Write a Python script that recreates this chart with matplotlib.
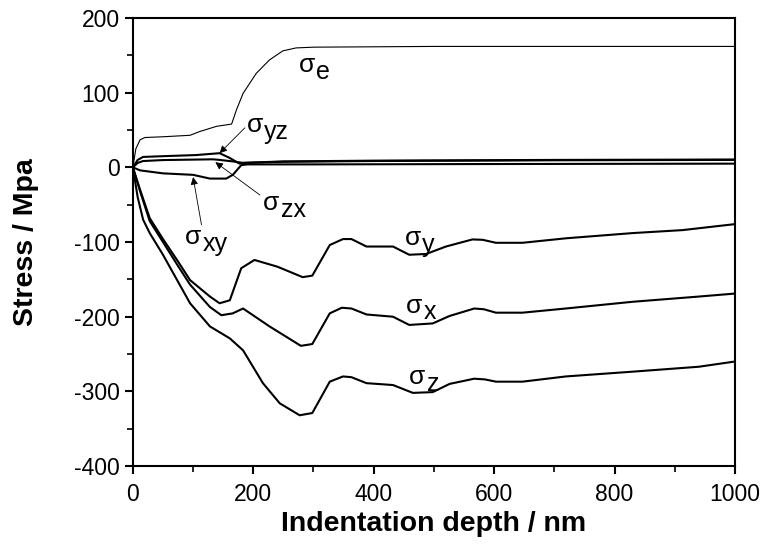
import matplotlib
matplotlib.use("Agg")
import matplotlib.pyplot as plt
from matplotlib.ticker import MultipleLocator

plt.rcParams['font.family'] = ['Liberation Sans', 'DejaVu Sans']
plt.rcParams['axes.unicode_minus'] = False

# --- Data ---
xe = [0, 5, 12, 20, 50, 95, 111, 139, 164, 172, 183, 205, 227, 249, 271, 300, 400, 500, 700, 1000]
se = [0, 25, 37, 40, 41, 43, 48, 55, 58, 77, 99, 126, 144, 156, 160, 161, 161.5, 162, 162, 162]

xyz = [0, 8, 17, 50, 105, 144, 160, 177, 183, 250, 400, 700, 1000]
syz = [0, 10, 14, 15, 16.5, 19, 13, 5, 6, 8, 9, 10, 10.5]

xzx = [0, 8, 17, 50, 133, 144, 166, 183, 250, 400, 700, 1000]
szx = [0, 6, 8.5, 9.8, 10.8, 10, 8, 6, 7.5, 8.5, 9.5, 10]

xxy = [0, 12, 50, 100, 128, 155, 166, 180, 190, 300, 600, 1000]
sxy = [0, -4, -8, -10, -15, -15, -10, 3, 4, 4, 4.5, 5]

xy = [0, 12, 28, 50, 75, 95, 128, 144, 161, 180, 202, 240, 282, 298, 327, 349, 363, 388,
      432, 459, 487, 520, 564, 581, 603, 647, 719, 830, 913, 1000]
sy = [0, -30, -68, -96, -126, -151, -173, -182, -178, -135, -124, -133, -147, -145, -104,
      -96, -96, -106, -106, -117, -116, -106, -96.5, -97, -101, -101, -95, -88, -84, -76]

xx = [0, 12, 28, 50, 75, 95, 128, 147, 166, 183, 227, 279, 298, 327, 347, 363, 388, 432,
      459, 498, 526, 567, 583, 603, 647, 719, 830, 940, 1000]
sx = [0, -32, -72, -100, -132, -157, -187, -198, -195.5, -189, -213, -239, -236.6, -195.5,
      -188, -189, -197, -200, -211, -209, -199, -189, -190, -194.6, -194.6, -189, -180, -173, -169]

xz = [0, 8, 17, 28, 50, 95, 128, 161, 183, 216, 244, 277, 298, 327, 349, 363, 388, 432,
      465, 498, 526, 567, 585, 603, 647, 719, 830, 940, 1000]
sz = [0, -40, -70, -88, -117, -182, -213, -229, -245, -289, -316, -332, -329, -287, -280,
      -281, -289, -291.5, -302, -301, -290, -283, -284, -287, -287, -280, -273.6, -267, -260]

# label positions (left edge of sigma, centre height) and arrows (tail -> tip)
labels = [("e", 275, 137), ("y", 451, -95), ("x", 454, -185), ("z", 459, -281),
          ("yz", 189, 57), ("zx", 216, -48), ("xy", 86, -93)]
arrows = [((186, 53), (144, 19)), ((211, -37), (137, 7)), ((114, -77), (100, -13))]

# --- Plot ---
fig = plt.figure(figsize=(7.68, 5.47), dpi=100)
ax = fig.add_axes([0.173, 0.148, 0.784, 0.819])

ax.plot(xe, se, color='k', lw=0.8)
for xs, ys in [(xyz, syz), (xzx, szx), (xxy, sxy), (xy, sy), (xx, sx), (xz, sz)]:
    ax.plot(xs, ys, color='k', lw=1.5)

ax.set_xlim(0, 1000)
ax.set_ylim(-400, 200)
ax.xaxis.set_major_locator(MultipleLocator(200))
ax.xaxis.set_minor_locator(MultipleLocator(100))
ax.yaxis.set_major_locator(MultipleLocator(100))
ax.yaxis.set_minor_locator(MultipleLocator(50))
ax.tick_params(which='major', direction='out', length=6, width=1.5, labelsize=16.5)
ax.tick_params(axis='x', which='major', pad=6)
ax.tick_params(which='minor', direction='out', length=4, width=1.2)
for sp in ax.spines.values():
    sp.set_linewidth(1.5)

ax.set_xlabel("Indentation depth / nm", fontsize=20.5, fontweight='bold', labelpad=4)
ax.set_ylabel("Stress / Mpa", fontsize=20.5, fontweight='bold')
ax.yaxis.set_label_coords(-0.156, 0.5)

# sigma labels with full-size, lowered subscripts
for sub, lx, ly in labels:
    t = ax.text(lx, ly, "\u03c3", fontsize=19, va='center')
    ax.annotate(sub, xy=(1, 0), xycoords=t, xytext=(1, -5), textcoords='offset points',
                fontsize=18, va='bottom', ha='left')

for tail, tip in arrows:
    ax.annotate("", xy=tip, xytext=tail,
                arrowprops=dict(arrowstyle='-|>', color='k', lw=0.6, mutation_scale=11,
                                shrinkA=0, shrinkB=0))

fig.savefig("out.png", dpi=100)
